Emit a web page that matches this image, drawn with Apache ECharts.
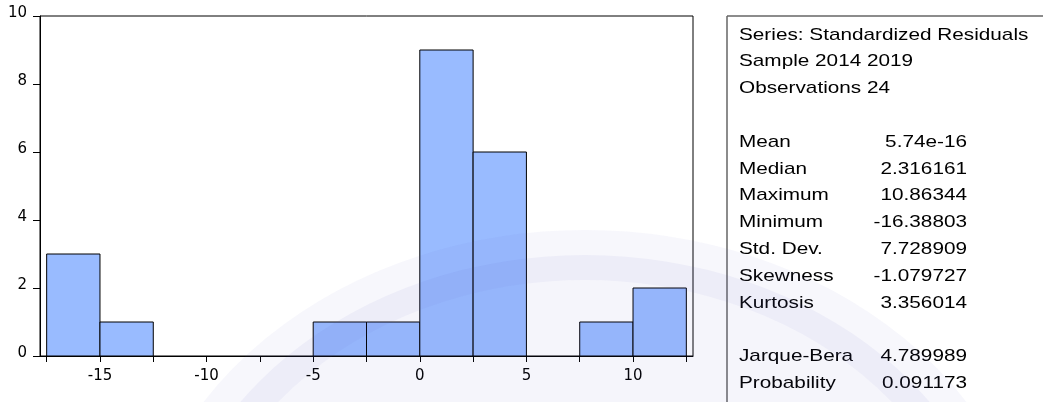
<!DOCTYPE html>
<html>
<head>
<meta charset="utf-8">
<script src="https://cdn.jsdelivr.net/npm/echarts@6/dist/echarts.min.js"></script>
<style>
html,body{margin:0;padding:0;background:#fff;}
#chart{width:1043px;height:402px;}
</style>
</head>
<body>
<div id="chart"></div>
<script>
// ---- data ----
var binEdges = [-17.5, -15, -12.5, -10, -7.5, -5, -2.5, 0, 2.5, 5, 7.5, 10, 12.5];
var counts   = [3, 1, 0, 0, 0, 1, 1, 9, 6, 0, 1, 2];
var xTickValues  = [-17.5, -15, -12.5, -10, -7.5, -5, -2.5, 0, 2.5, 5, 7.5, 10, 12.5];
var xLabelValues = [-15, -10, -5, 0, 5, 10];
var yTicks = [0, 2, 4, 6, 8, 10];
var statHeader = ['Series: Standardized Residuals', 'Sample 2014 2019', 'Observations 24'];
var statLabels = ['Mean', 'Median', 'Maximum', 'Minimum', 'Std. Dev.', 'Skewness', 'Kurtosis', '', 'Jarque-Bera', 'Probability'];
var statValues = ['5.74e-16', '2.316161', '10.86344', '-16.38803', '7.728909', '-1.079727', '3.356014', '', '4.789989', '0.091173'];

var barData = [];
for (var i = 0; i < counts.length; i++) {
  barData.push([binEdges[i], binEdges[i + 1], counts[i]]);
}

var chart = echarts.init(document.getElementById('chart'), null, {renderer: 'canvas'});

var graphics = [];
// stats box border
graphics.push({type: 'line', shape: {x1: 727, y1: 16, x2: 727, y2: 402}, style: {stroke: '#666', lineWidth: 1.5}, z: 10});
graphics.push({type: 'line', shape: {x1: 727, y1: 16, x2: 1043, y2: 16}, style: {stroke: '#666', lineWidth: 1.5}, z: 10});

var rowH = 26.8, row0 = 35, sx = 1.22;
function addText(txt, x, y, align) {
  graphics.push({
    type: 'text', x: x, y: y, scaleX: sx, z: 10,
    style: {text: txt, font: '17px "Liberation Sans", Arial, sans-serif', fill: '#000',
            textAlign: align, textVerticalAlign: 'middle'}
  });
}
for (var h = 0; h < statHeader.length; h++) addText(statHeader[h], 739, row0 + rowH * h, 'left');
for (var s = 0; s < statLabels.length; s++) {
  if (!statLabels[s]) continue;
  var yy = row0 + rowH * (s + 4);
  addText(statLabels[s], 739, yy, 'left');
  addText(statValues[s], 967, yy, 'right');
}
// faint watermark
graphics.push({
  type: 'circle', x: 585, y: 600, scaleX: 1.22, silent: true, z: 100,
  shape: {cx: 0, cy: 0, r: 345},
  style: {fill: 'rgba(90,90,190,0.06)', stroke: 'rgba(90,90,190,0.05)', lineWidth: 50}
});

var option = {
  backgroundColor: '#fff',
  animation: false,
  grid: {left: 40, top: 16, width: 653, height: 340, show: true, borderColor: '#000', borderWidth: 1, backgroundColor: 'transparent'},
  xAxis: {
    type: 'value', min: -17.8125, max: 12.8125,
    axisLine: {show: true, onZero: false, lineStyle: {color: '#000', width: 1}},
    axisTick: {show: true, length: 6, customValues: xTickValues, lineStyle: {color: '#000'}},
    axisLabel: {customValues: xLabelValues, color: '#000', fontFamily: 'DejaVu Sans', fontSize: 15, margin: 13},
    splitLine: {show: false}
  },
  yAxis: {
    type: 'value', min: 0, max: 10, interval: 2,
    axisLine: {show: true, onZero: false, lineStyle: {color: '#000', width: 1}},
    axisTick: {show: true, length: 7, lineStyle: {color: '#000'}},
    axisLabel: {
      color: '#000', fontFamily: 'DejaVu Sans', fontSize: 15, margin: 13,
      formatter: function (v) { return '{a|' + v + '}'; },
      rich: {a: {color: '#000', fontFamily: 'DejaVu Sans', fontSize: 15, padding: [0, 0, 5, 0]}}
    },
    splitLine: {show: false}
  },
  graphic: graphics,
  series: [{
    type: 'custom',
    data: barData,
    encode: {x: [0, 1], y: 2},
    renderItem: function (params, api) {
      var c = api.value(2);
      if (!c) return null;
      var p0 = api.coord([api.value(0), c]);
      var p1 = api.coord([api.value(1), 0]);
      return {
        type: 'rect',
        shape: {x: p0[0], y: p0[1], width: p1[0] - p0[0], height: p1[1] - p0[1]},
        style: {fill: '#99BBFF', stroke: '#000', lineWidth: 1}
      };
    }
  }]
};
chart.setOption(option);
</script>
</body>
</html>
